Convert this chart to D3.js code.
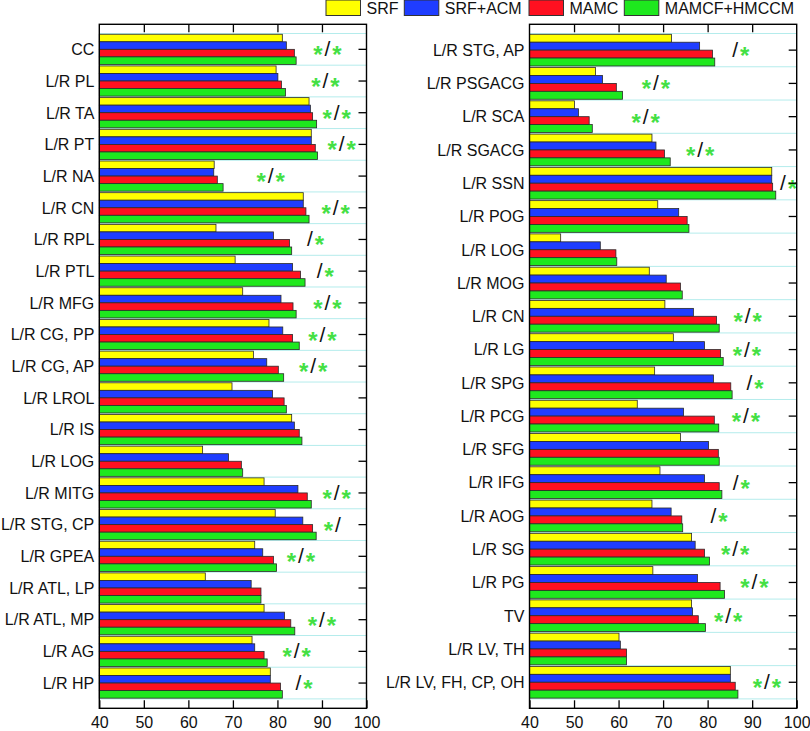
<!DOCTYPE html>
<html>
<head>
<meta charset="utf-8">
<script src="https://cdn.jsdelivr.net/npm/d3@7"></script>
<style>
  html, body { margin: 0; padding: 0; background: #fff; }
  svg { display: block; font-family: "Liberation Sans", Arial, sans-serif; }
</style>
</head>
<body>
<svg id="chart" width="810" height="731"></svg>
<script>
const seriesNames = ["SRF", "SRF+ACM", "MAMC", "MAMCF+HMCCM"];
const seriesColors = ["#ffff00", "#1f3dff", "#ff1020", "#1ee81e"];
const tickValues = [40, 50, 60, 70, 80, 90, 100];

const leftCats = ["CC","L/R PL","L/R TA","L/R PT","L/R NA","L/R CN","L/R RPL","L/R PTL","L/R MFG","L/R CG, PP","L/R CG, AP","L/R LROL","L/R IS","L/R LOG","L/R MITG","L/R STG, CP","L/R GPEA","L/R ATL, LP","L/R ATL, MP","L/R AG","L/R HP"];
const leftSRF   = [81.1,79.7,87.1,87.6,65.8,85.8,66.2,70.5,72.2,78.1,74.6,69.8,83.2,63.2,77.0,79.5,74.9,63.8,77.0,74.3,78.4];
const leftACM   = [82.0,80.1,87.4,87.6,65.7,85.8,79.1,83.4,80.8,81.2,77.6,78.9,83.8,69.0,84.6,85.7,76.7,74.1,81.6,74.9,78.4];
const leftMAMC  = [83.8,80.9,87.9,88.5,66.5,86.4,82.7,85.2,83.5,83.4,80.2,81.5,84.9,71.9,86.7,87.9,79.1,76.3,83.0,77.0,80.7];
const leftMAMCF = [84.2,81.8,88.8,89.0,67.8,87.1,83.2,86.2,84.2,84.9,81.4,82.0,85.5,72.2,87.6,88.7,79.8,76.3,83.9,77.7,81.1];
const leftSig   = ["*/*","*/*","*/*","*/*","*/*","*/*","/*","/*","*/*","*/*","*/*","","","","*/*","*/","*/*","","*/*","*/*","/*"];
const leftSigAt = [91.2,90.8,93.3,94.4,78.5,93.1,87.3,89.5,91.2,90.1,88.0,null,null,null,93.3,93.6,85.3,null,90.0,84.3,84.7];

const rightCats = ["L/R STG, AP","L/R PSGACG","L/R SCA","L/R SGACG","L/R SSN","L/R POG","L/R LOG","L/R MOG","L/R CN","L/R LG","L/R SPG","L/R PCG","L/R SFG","L/R IFG","L/R AOG","L/R SG","L/R PG","TV","L/R LV, TH","L/R LV, FH, CP, OH"];
const rightSRF   = [71.9,54.8,50.1,67.5,94.4,68.8,47.0,66.9,70.4,72.3,68.1,64.2,73.9,69.3,67.5,76.4,67.7,76.4,60.1,85.1];
const rightACM   = [78.2,56.4,51.0,68.4,94.4,73.5,55.9,70.7,76.8,79.3,81.3,74.6,80.2,79.3,71.8,77.2,77.7,76.6,60.4,85.1];
const rightMAMC  = [81.1,59.5,53.4,70.3,94.6,75.4,59.4,73.9,82.0,82.9,85.2,81.5,82.4,82.6,74.2,79.3,82.8,77.9,61.8,86.2];
const rightMAMCF = [81.6,60.9,54.1,71.6,95.3,75.8,59.6,74.3,82.6,83.5,85.5,82.5,82.6,83.2,74.4,80.4,83.8,79.5,61.8,86.8];
const rightSig   = ["/*","*/*","*/*","*/*","/*","","","","*/*","*/*","/*","*/*","","/*","/*","*/*","*/*","*/*","","*/*"];
const rightSigAt = [86.2,68.4,66.1,78.3,96.9,null,null,null,89.0,88.8,89.4,88.6,null,86.3,81.3,86.2,90.5,84.6,null,93.3];

const svg = d3.select("#chart");

function drawPanel(opts) {
  const { x0, x1, y0, y1, cats, series, sig, sigAt } = opts;
  const g = svg.append("g");
  const x = d3.scaleLinear().domain([40, 100]).range([x0, x1]);
  const y = d3.scaleBand().domain(cats).range([y0 + 9.2, y1 - 9.4]).paddingInner(0).paddingOuter(0);
  const inner = d3.scaleBand().domain(d3.range(4)).range([0, y.bandwidth()]).paddingOuter(0.1).paddingInner(0);

  // grid lines at band boundaries
  const bounds = cats.map(c => y(c)).concat([y(cats[cats.length - 1]) + y.bandwidth()]);
  g.selectAll("line.grid").data(bounds).join("line")
    .attr("x1", x0).attr("x2", x1)
    .attr("y1", d => d).attr("y2", d => d)
    .attr("stroke", "#b4ecec").attr("stroke-width", 1);

  // bars
  cats.forEach((c, i) => {
    series.forEach((s, k) => {
      g.append("rect")
        .attr("x", x(40))
        .attr("y", y(c) + inner(k))
        .attr("width", x(s[i]) - x(40))
        .attr("height", inner.bandwidth())
        .attr("fill", seriesColors[k])
        .attr("stroke", "#2a2a2a")
        .attr("stroke-width", 0.8);
    });
  });

  // significance markers
  cats.forEach((c, i) => {
    if (!sig[i]) return;
    const cx = x(sigAt[i]);
    const cy = y(c) + y.bandwidth() / 2;
    const parts = sig[i].split("/");
    g.append("text").attr("x", cx).attr("y", cy + 7)
      .attr("text-anchor", "middle").attr("font-size", 21).attr("fill", "#111").text("/");
    if (parts[0] === "*") {
      g.append("text").attr("x", cx - 9.5).attr("y", cy + 14)
        .attr("text-anchor", "middle").attr("font-size", 24).attr("font-weight", "bold")
        .attr("fill", "#44e044").text("*");
    }
    if (parts[1] === "*") {
      g.append("text").attr("x", cx + 9.5).attr("y", cy + 14)
        .attr("text-anchor", "middle").attr("font-size", 24).attr("font-weight", "bold")
        .attr("fill", "#44e044").text("*");
    }
  });

  // category labels
  g.selectAll("text.cat").data(cats).join("text")
    .attr("x", x0 - 5)
    .attr("y", d => y(d) + y.bandwidth() / 2 + 5.8)
    .attr("text-anchor", "end").attr("font-size", 16).attr("fill", "#111")
    .text(d => d);

  // right-side ticks (inward)
  g.selectAll("line.rtick").data(cats).join("line")
    .attr("x1", x1 - 8).attr("x2", x1)
    .attr("y1", d => y(d) + y.bandwidth() / 2).attr("y2", d => y(d) + y.bandwidth() / 2)
    .attr("stroke", "#000").attr("stroke-width", 1.3);

  // bottom axis
  const bottom = g.append("g").attr("transform", `translate(0,${y1})`)
    .call(d3.axisBottom(x).tickValues(tickValues).tickSize(-8).tickFormat(d3.format("d")));
  bottom.select(".domain").remove();
  bottom.selectAll("line").attr("stroke", "#000").attr("stroke-width", 1.3);
  bottom.selectAll("text").attr("font-size", 16).attr("fill", "#111")
    .attr("font-family", "Liberation Sans, Arial, sans-serif").attr("dy", null).attr("y", 19.5);

  // top ticks (inward)
  const top = g.append("g").attr("transform", `translate(0,${y0})`)
    .call(d3.axisTop(x).tickValues(tickValues.slice(1, -1)).tickSize(-8).tickFormat(""));
  top.select(".domain").remove();
  top.selectAll("line").attr("stroke", "#000").attr("stroke-width", 1.3);

  // frame
  g.append("rect").attr("x", x0).attr("y", y0).attr("width", x1 - x0).attr("height", y1 - y0)
    .attr("fill", "none").attr("stroke", "#000").attr("stroke-width", 1.4);
}

drawPanel({ x0: 99.3, x1: 366.5, y0: 24.3, y1: 708.3, cats: leftCats,
  series: [leftSRF, leftACM, leftMAMC, leftMAMCF], sig: leftSig, sigAt: leftSigAt });
drawPanel({ x0: 529.5, x1: 796.7, y0: 24.3, y1: 708.3, cats: rightCats,
  series: [rightSRF, rightACM, rightMAMC, rightMAMCF], sig: rightSig, sigAt: rightSigAt });

// legend
const legendX = [326, 404.3, 529, 624.3];
const legend = svg.append("g");
seriesNames.forEach((n, k) => {
  legend.append("rect").attr("x", legendX[k]).attr("y", 0).attr("width", 34.5).attr("height", 15.5)
    .attr("fill", seriesColors[k]).attr("stroke", "#333").attr("stroke-width", 1);
  legend.append("text").attr("x", legendX[k] + 40.5).attr("y", 14)
    .attr("font-size", 16).attr("fill", "#111").text(n);
});
</script>
</body>
</html>
